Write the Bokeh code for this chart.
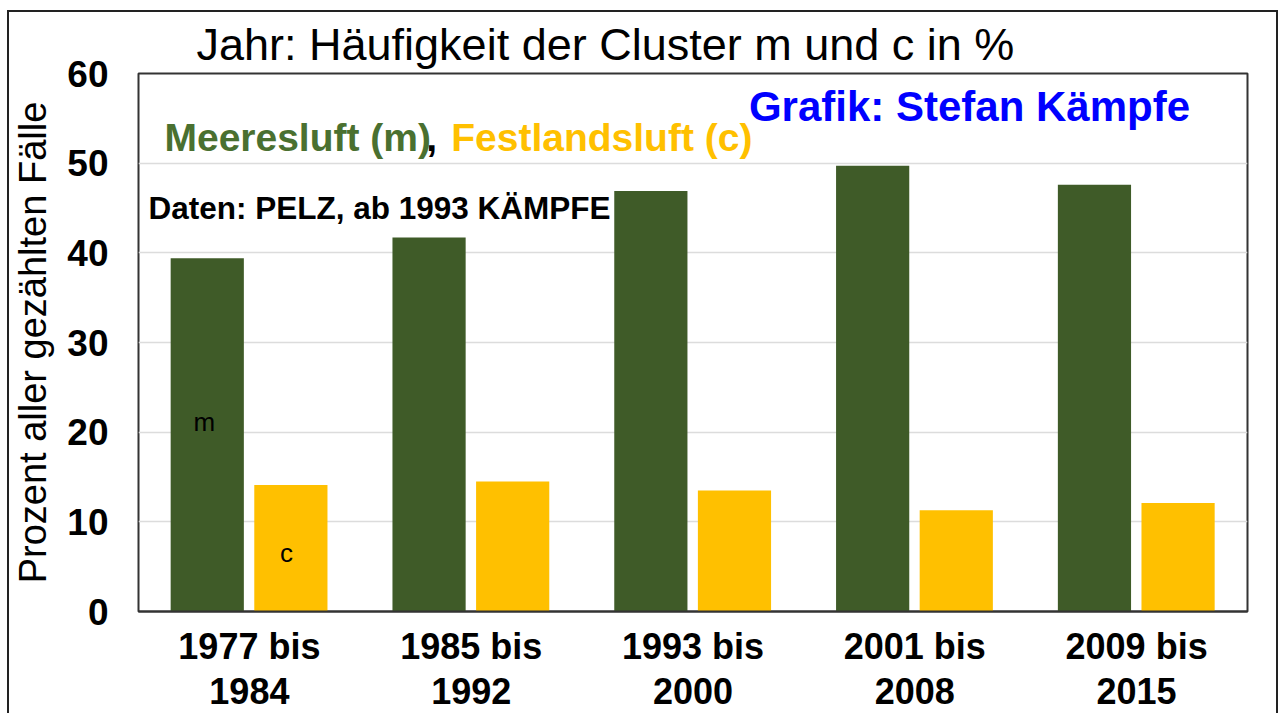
from bokeh.plotting import figure
from bokeh.models import ColumnDataSource, Range1d, FactorRange, Label, SingleIntervalTicker
from bokeh.transform import dodge
from bokeh.embed import file_html
from bokeh.resources import INLINE

categories = ["1977 bis\n1984", "1985 bis\n1992", "1993 bis\n2000", "2001 bis\n2008", "2009 bis\n2015"]
meeresluft = [39.4, 41.7, 46.9, 49.7, 47.6]
festlandsluft = [14.1, 14.5, 13.5, 11.3, 12.1]

title_text = "Jahr: Häufigkeit der Cluster m und c in %"
y_label = "Prozent aller gezählten Fälle"

GREEN = "#3f5b28"
GOLD = "#ffc000"
FONT = "Liberation Sans"

src = ColumnDataSource(dict(cat=categories, m=meeresluft, c=festlandsluft))

p = figure(width=1271, height=703, x_range=FactorRange(*categories), y_range=Range1d(0, 60),
           output_backend="svg", toolbar_location=None,
           min_border_left=128, min_border_top=61, min_border_right=33, min_border_bottom=104)
p.styles = {"border-top": "2px solid #222", "border-left": "2px solid #222",
            "border-right": "2px solid #222", "margin-left": "7px", "margin-top": "10px"}

p.title.text = title_text
p.title.text_font = FONT
p.title.text_font_size = "45px"
p.title.text_font_style = "normal"
p.title.text_color = "black"
p.title.align = "left"
p.title.offset = 58
p.title.standoff = 7

p.vbar(x=dodge("cat", -0.19, range=p.x_range), top="m", width=0.33, source=src,
       fill_color=GREEN, line_color=None)
p.vbar(x=dodge("cat", 0.187, range=p.x_range), top="c", width=0.33, source=src,
       fill_color=GOLD, line_color=None)

p.outline_line_color = "#333333"
p.outline_line_width = 2
p.xgrid.grid_line_color = None
p.ygrid.grid_line_color = "#dcdcdc"
p.ygrid.grid_line_width = 1.5
p.yaxis.ticker = SingleIntervalTicker(interval=10)

for ax in (p.xaxis[0], p.yaxis[0]):
    ax.major_tick_out = 0
    ax.major_tick_in = 0
    ax.minor_tick_out = 0
    ax.minor_tick_in = 0
    ax.major_label_text_font = FONT
    ax.major_label_text_font_style = "bold"
    ax.major_label_text_color = "black"
    ax.axis_label_text_font = FONT

p.yaxis.axis_line_color = None
p.xaxis.axis_line_color = "#333333"
p.xaxis.axis_line_width = 2
p.yaxis.major_label_text_font_size = "37px"
p.yaxis.major_label_standoff = 30
p.yaxis.axis_label = y_label
p.yaxis.axis_label_text_font_size = "38px"
p.yaxis.axis_label_text_font_style = "normal"
p.yaxis.axis_label_text_color = "black"
p.yaxis.axis_label_standoff = 10
p.xaxis.major_label_text_font_size = "36px"
p.xaxis.major_label_text_line_height = 1.1
p.xaxis.major_label_standoff = 14
p.xaxis.major_label_orientation = "horizontal"

def add_label(x, y, text, size, color="black", style="bold", align="left"):
    p.add_layout(Label(x=x, y=y, text=text, text_font=FONT, text_font_size=size,
                       text_font_style=style, text_color=color, text_align=align,
                       text_baseline="middle"))

add_label(2.752, 56.3, "Grafik: Stefan Kämpfe", "42px", color="#0000ff")
add_label(0.117, 52.9, "Meeresluft (m)", "39px", color="#4a7030")
add_label(1.297, 52.9, ",", "39px", color="black")
add_label(1.41, 52.9, "Festlandsluft (c)", "39px", color=GOLD)
add_label(0.045, 45.05, "Daten: PELZ, ab 1993 KÄMPFE", "31.5px", color="black")
add_label(0.297, 21.1, "m", "26px", color="black", style="normal", align="center")
add_label(0.667, 6.5, "c", "26px", color="black", style="normal", align="center")

open("out.html", "w").write(file_html(p, INLINE))
